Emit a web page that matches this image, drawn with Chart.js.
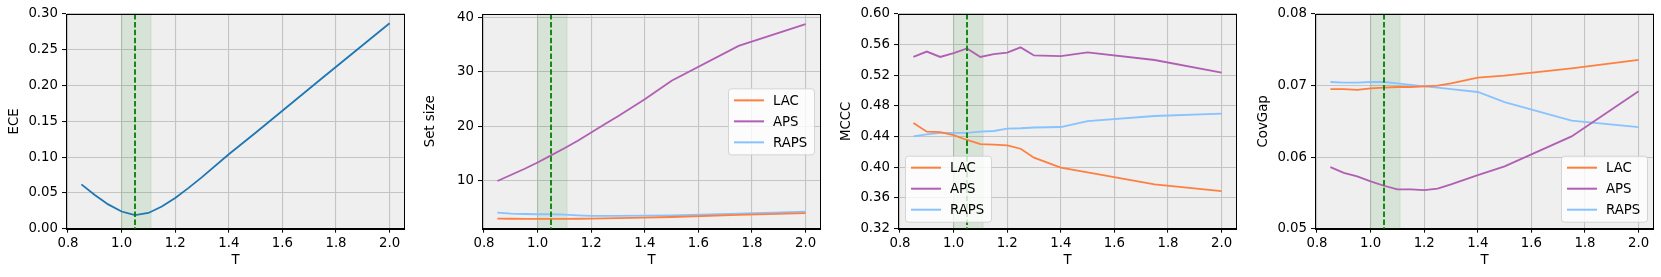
<!DOCTYPE html>
<html><head><meta charset="utf-8">
<script src="https://cdn.jsdelivr.net/npm/chart.js@4.4.0/dist/chart.umd.min.js"></script>
<style>
html,body{margin:0;padding:0;background:#fff;overflow:hidden;width:1661px;height:277px;}
canvas{position:absolute;top:0;}
</style></head>
<body>
<canvas id="c1" width="416" height="277" style="left:0px"></canvas>
<canvas id="c2" width="416" height="277" style="left:416px"></canvas>
<canvas id="c3" width="416" height="277" style="left:832px"></canvas>
<canvas id="c4" width="412" height="277" style="left:1249px"></canvas>
<script>
const T = [0.85,0.9,0.95,1.0,1.05,1.1,1.15,1.2,1.25,1.3,1.4,1.5,1.75,2.0];
const xTicks = [0.8,1.0,1.2,1.4,1.6,1.8,2.0];
const methods = ['LAC','APS','RAPS'];

const ece = [0.062,0.047,0.034,0.024,0.019,0.022,0.031,0.043,0.057,0.072,0.104,0.134,0.211,0.287];

const setLAC  = [3.1,3.08,3.07,3.07,3.07,3.07,3.08,3.1,3.15,3.2,3.3,3.4,3.78,4.1];
const setAPS  = [10.0,11.1,12.2,13.4,14.7,16.0,17.4,18.9,20.4,21.9,25.0,28.4,34.8,38.8];
const setRAPS = [4.2,4.0,3.95,3.9,3.9,3.85,3.7,3.6,3.6,3.6,3.65,3.7,4.0,4.4];

const mcccLAC  = [0.458,0.4465,0.446,0.442,0.4357,0.4304,0.4296,0.4287,0.4243,0.4126,0.3996,0.3935,0.3778,0.369];
const mcccAPS  = [0.544,0.551,0.544,0.549,0.555,0.544,0.5478,0.5496,0.5565,0.546,0.545,0.550,0.540,0.5235];
const mcccRAPS = [0.4404,0.443,0.445,0.445,0.445,0.4465,0.4474,0.4504,0.451,0.452,0.4526,0.4604,0.467,0.470];

const covLAC  = [0.06949,0.0695,0.0694,0.0696,0.0697,0.0698,0.0698,0.0699,0.0700,0.0703,0.0711,0.0714,0.0724,0.0736];
const covAPS  = [0.0586,0.0578,0.0573,0.0566,0.0560,0.0555,0.0555,0.0554,0.0556,0.0562,0.0575,0.0587,0.0629,0.0692];
const covRAPS = [0.0705,0.0704,0.0704,0.0705,0.0705,0.0703,0.0701,0.0699,0.0697,0.0695,0.0691,0.0677,0.0651,0.0642];

const eceTicks = [0,0.05,0.10,0.15,0.20,0.25,0.30];
const setTicks = [10,20,30,40];
const mcccTicks = [0.32,0.36,0.40,0.44,0.48,0.52,0.56,0.60];
const covTicks = [0.05,0.06,0.07,0.08];

const bestT = 1.05;
const bandT = [1.0, 1.11];

const COLORS = {ECE:'#1f77b4', LAC:'#ff7f40', APS:'#b05fb3', RAPS:'#88c2ff'};
const FONT = {family:'"DejaVu Sans", sans-serif', size:13.3};

function pts(ys){ return T.map((t,i)=>({x:t, y:ys[i]})); }

const decor = {
  id:'decor',
  beforeDraw(chart){
    const {ctx, chartArea:a} = chart;
    ctx.save(); ctx.fillStyle='#efefef';
    ctx.fillRect(a.left,a.top,a.right-a.left,a.bottom-a.top); ctx.restore();
  },
  beforeDatasetsDraw(chart){
    const {ctx, chartArea:a, scales:{x}} = chart;
    const x0 = x.getPixelForValue(bandT[0]), x1 = x.getPixelForValue(bandT[1]);
    ctx.save();
    ctx.fillStyle='rgba(0,128,0,0.1)';
    ctx.fillRect(x0,a.top,x1-x0,a.bottom-a.top);
    ctx.strokeStyle='rgba(0,128,0,0.1)'; ctx.lineWidth=1;
    ctx.strokeRect(x0,a.top,x1-x0,a.bottom-a.top);
    ctx.restore();
  },
  afterDatasetsDraw(chart){
    const {ctx, chartArea:a, scales:{x}} = chart;
    const xv = x.getPixelForValue(bestT);
    ctx.save();
    ctx.strokeStyle='#008000'; ctx.lineWidth=1.8; ctx.setLineDash([5.5,2.4]);
    ctx.beginPath(); ctx.moveTo(xv,a.top); ctx.lineTo(xv,a.bottom); ctx.stroke();
    ctx.setLineDash([]);
    ctx.strokeStyle='#000'; ctx.lineWidth=1;
    ctx.strokeRect(Math.round(a.left)+0.5, Math.round(a.top)+0.5, Math.round(a.right-a.left)-1, Math.round(a.bottom-a.top));
    ctx.restore();
  },
  afterDraw(chart){
    const lg = chart.options.plugins.decor && chart.options.plugins.decor.legend;
    if(!lg) return;
    const {ctx, chartArea:a} = chart;
    const w=86, h=66, pad=7;
    let bx, by;
    if(lg==='center right'){ bx=a.right-pad-w; by=(a.top+a.bottom)/2-h/2; }
    else if(lg==='lower left'){ bx=a.left+pad; by=a.bottom-pad-h; }
    else { bx=a.right-pad-w; by=a.bottom-pad-h; }
    ctx.save();
    ctx.fillStyle='rgba(255,255,255,0.8)'; ctx.strokeStyle='rgba(204,204,204,0.8)'; ctx.lineWidth=1;
    ctx.beginPath();
    if(ctx.roundRect) ctx.roundRect(bx+0.5,by+0.5,w,h,3); else ctx.rect(bx+0.5,by+0.5,w,h);
    ctx.fill(); ctx.stroke();
    ctx.font = FONT.size+'px '+FONT.family; ctx.textBaseline='middle'; ctx.textAlign='left';
    chart.data.datasets.forEach((ds,i)=>{
      const yy = by+12+i*21;
      ctx.strokeStyle=ds.borderColor; ctx.lineWidth=2;
      ctx.beginPath(); ctx.moveTo(bx+6,yy); ctx.lineTo(bx+36,yy); ctx.stroke();
      ctx.fillStyle='#000'; ctx.fillText(ds.label,bx+45,yy+1);
    });
    ctx.restore();
  }
};

function makeChart(id, datasets, yTitle, yMin, yMax, yTicks, yFmt, legend, padRight){
  return new Chart(document.getElementById(id), {
    type:'line',
    data:{datasets},
    plugins:[decor],
    options:{
      responsive:false, animation:false, devicePixelRatio:1,
      layout:{padding:{left:0,right:padRight,top:14,bottom:0}},
      elements:{point:{radius:0}, line:{tension:0, borderWidth:1.8}},
      plugins:{legend:{display:false}, tooltip:{enabled:false}, decor:{legend}},
      scales:{
        x:{type:'linear', min:0.7925, max:2.0575,
          afterBuildTicks:s=>{s.ticks = xTicks.map(v=>({value:v}));},
          afterFit:s=>{s.height=48.3;},
          ticks:{color:'#000', font:FONT, padding:3, maxRotation:0, autoSkip:false, callback:v=>v.toFixed(1)},
          grid:{color:'#c4c4c4', lineWidth:1.1, tickColor:'#000', tickLength:4, tickWidth:1},
          border:{display:true, color:'#000', width:1},
          title:{display:true, text:'T', color:'#000', font:FONT, padding:{top:0,bottom:8}}
        },
        y:{type:'linear', min:yMin, max:yMax,
          afterBuildTicks:s=>{s.ticks = yTicks.map(v=>({value:v}));},
          afterFit:s=>{s.width=66;},
          ticks:{color:'#000', font:FONT, padding:4, autoSkip:false, callback:yFmt},
          grid:{color:'#c4c4c4', lineWidth:1.1, tickColor:'#000', tickLength:4, tickWidth:1},
          border:{display:true, color:'#000', width:1},
          title:{display:true, text:yTitle, color:'#000', font:FONT, padding:{top:7,bottom:0}}
        }
      }
    }
  });
}

function three(a,b,c){
  return [a,b,c].map((ys,i)=>({label:methods[i], data:pts(ys), borderColor:COLORS[methods[i]], backgroundColor:COLORS[methods[i]], fill:false}));
}

const f2 = v=>v.toFixed(2);
makeChart('c1', [{label:'ECE', data:pts(ece), borderColor:COLORS.ECE, fill:false}], 'ECE', 0, 0.30, eceTicks, f2, null, 11);
makeChart('c2', three(setLAC,setAPS,setRAPS), 'Set size', 1.25, 40.65, setTicks, v=>String(v), 'center right', 11);
makeChart('c3', three(mcccLAC,mcccAPS,mcccRAPS), 'MCCC', 0.32, 0.60, mcccTicks, f2, 'lower left', 11);
makeChart('c4', three(covLAC,covAPS,covRAPS), 'CovGap', 0.05, 0.08, covTicks, f2, 'lower right', 7);
</script>
</body></html>
